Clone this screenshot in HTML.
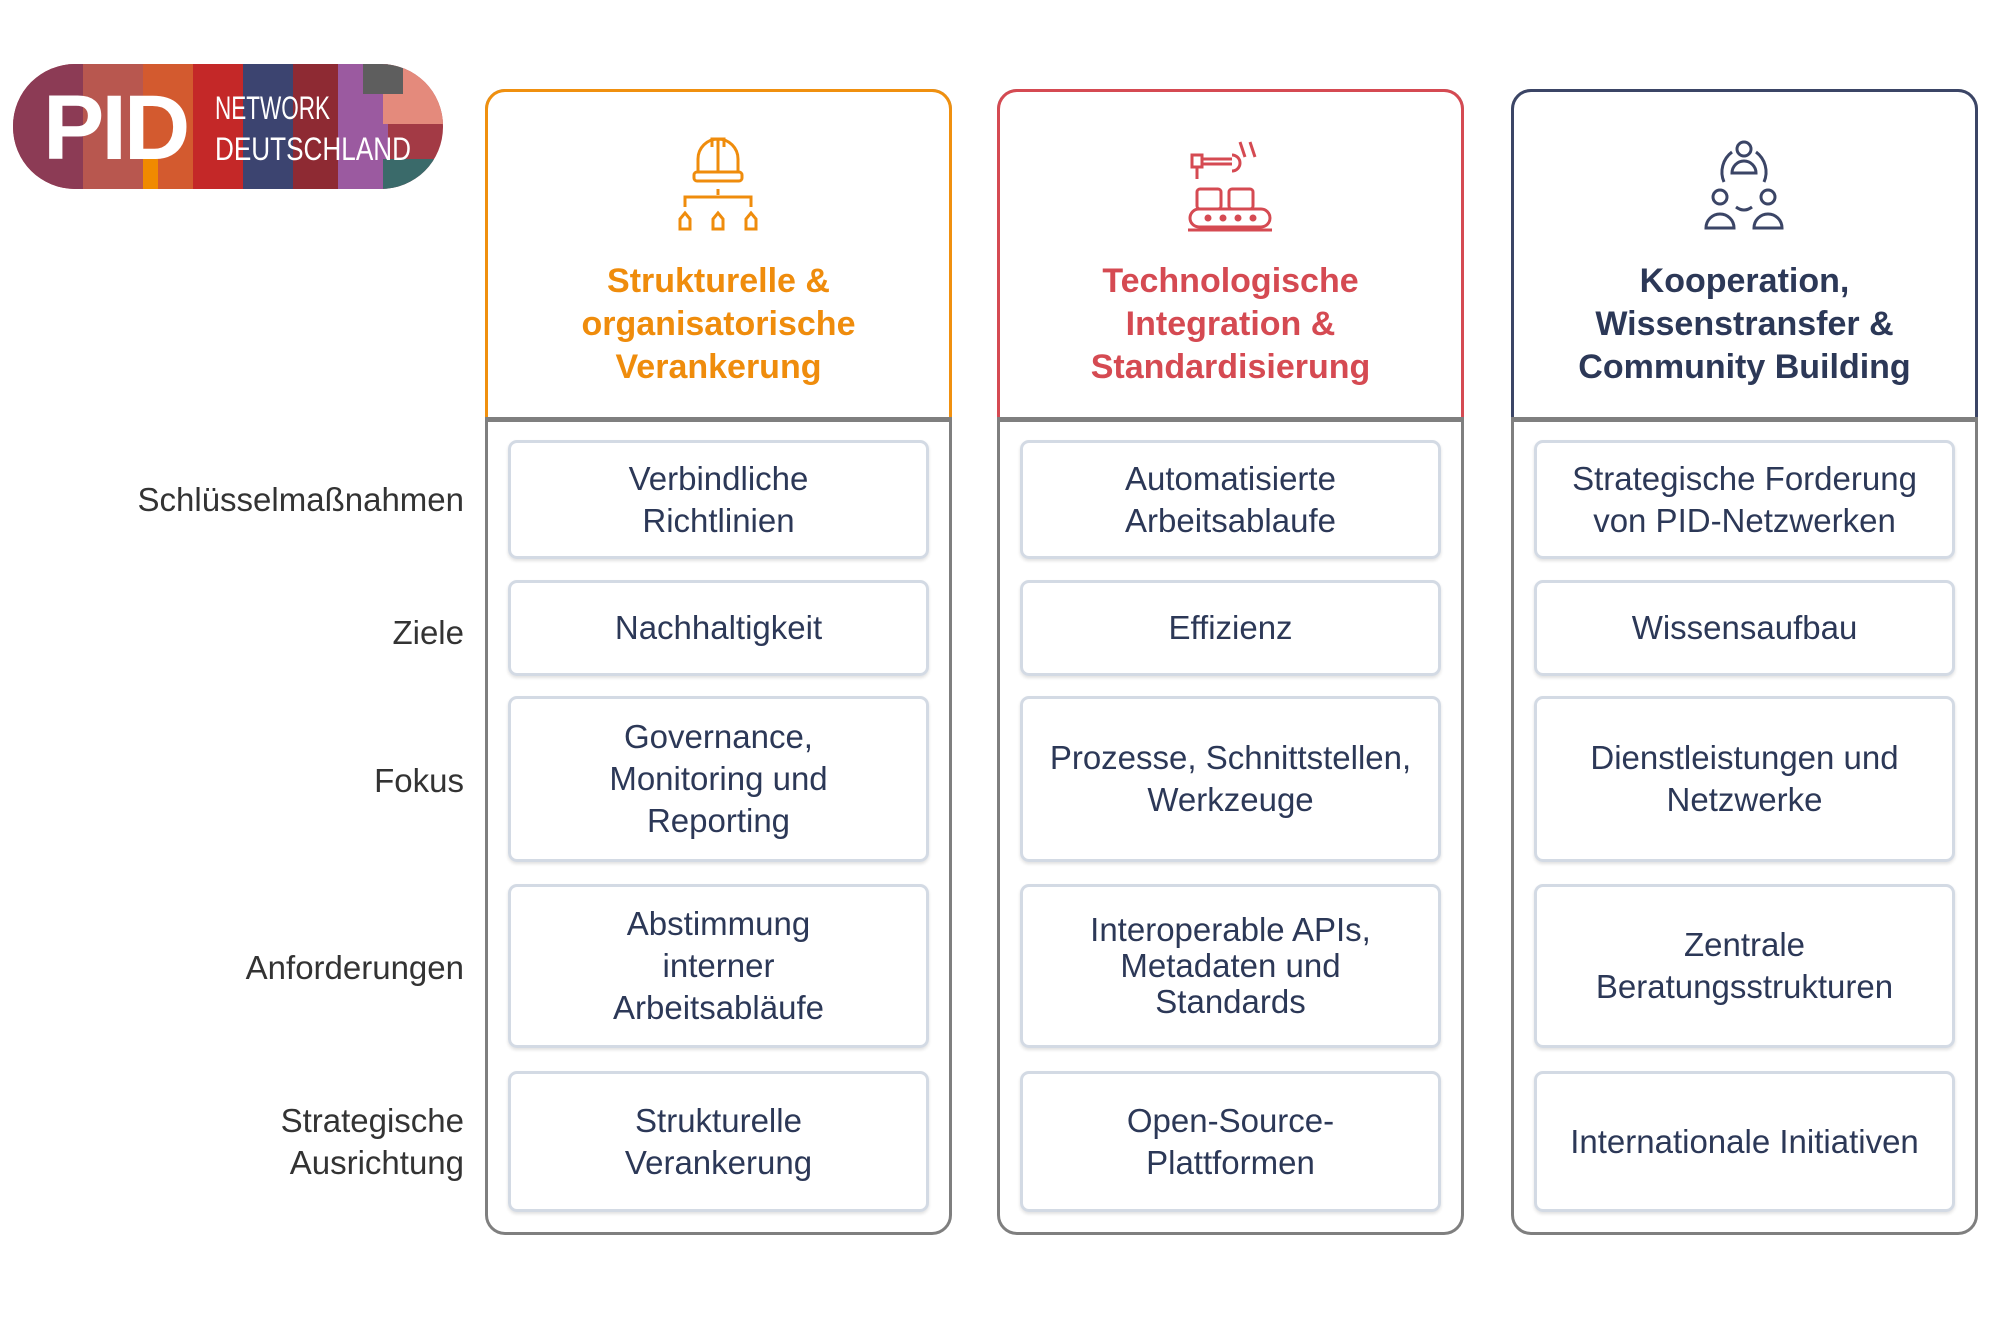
<!DOCTYPE html>
<html><head><meta charset="utf-8"><style>
*{margin:0;padding:0;box-sizing:border-box}
body{width:2000px;height:1329px;background:#fff;position:relative;overflow:hidden;font-family:"Liberation Sans","DejaVu Sans",sans-serif}
.col{position:absolute;top:89px;width:467px;height:1146px;border:3px solid #7f7f7f;border-radius:20px}
.head{position:absolute;left:-3px;top:-3px;width:467px;height:331px;border:3px solid;border-bottom:none;border-radius:20px 20px 0 0;background:#fff}
.div{position:absolute;left:-3px;top:325px;width:467px;height:5px;background:#7f7f7f}
.ht{position:absolute;left:0;width:461px;top:168px;text-align:center;font-weight:bold;font-size:34px;line-height:43px}
.icon{position:absolute;left:180px;top:45px}
.cell{position:absolute;width:421px;border:3px solid #d3dae4;border-radius:9px;display:flex;align-items:center;justify-content:center;text-align:center;font-size:33px;line-height:42px;color:#2c3857;box-shadow:0 2px 3px rgba(0,0,0,.12)}
.lab{position:absolute;right:1536px;text-align:right;font-size:33px;line-height:42px;color:#333;transform:translateY(-50%)}
</style></head><body>
<svg style="position:absolute;left:13px;top:64px" width="430" height="125" viewBox="0 0 430 125">
<defs><clipPath id="c"><rect x="0" y="0" width="430" height="125" rx="62"/></clipPath></defs>
<g clip-path="url(#c)">
<rect width="430" height="125" fill="#a33a45"/>
<rect x="0" width="70" height="125" fill="#8c3b55"/>
<rect x="70" width="60" height="125" fill="#b8574f"/>
<rect x="130" width="50" height="125" fill="#d35a2f"/>
<rect x="180" width="50" height="125" fill="#c42828"/>
<rect x="230" width="50" height="125" fill="#3c4470"/>
<rect x="280" width="45" height="125" fill="#8e2a33"/>
<rect x="325" width="50" height="125" fill="#9b5aa0"/>
<rect x="370" width="60" height="60" fill="#e48a7c"/>
<rect x="350" width="40" height="30" fill="#5e5e5e"/>
<rect x="370" y="95" width="60" height="30" fill="#3a6a6a"/>
<rect x="130" y="90" width="15" height="35" fill="#f08a00"/>
</g>
<text x="30" y="95" font-family="Liberation Sans" font-weight="bold" font-size="92" fill="#fff" letter-spacing="-3">PID</text>
<text x="202" y="55" font-family="Liberation Sans Narrow, Liberation Sans" font-size="32" fill="#fff" textLength="115" lengthAdjust="spacingAndGlyphs">NETWORK</text>
<text x="202" y="96" font-family="Liberation Sans Narrow, Liberation Sans" font-size="32" fill="#fff" textLength="196" lengthAdjust="spacingAndGlyphs">DEUTSCHLAND</text>
</svg>

<div class="col" style="left:485px">
<div class="head" style="border-color:#f0900f"></div><div class="div"></div>
<svg class="icon" width="100" height="95" viewBox="0 0 100 95" fill="none" stroke="#ef8c0c" stroke-width="3">
<path d="M30 35 V22 a20 20 0 0 1 40 0 V35 M44 10 V2 h12 v8 M50 2 V35"/><rect x="26" y="35" width="48" height="9" rx="3"/>
<path d="M50 52 V58 M17 70 V60 h66 v10"/>
<path d="M12 92 v-10 l5-6 5 6 v10z M45 92 v-10 l5-6 5 6 v10z M78 92 v-10 l5-6 5 6 v10z"/></svg>
<div class="ht" style="color:#ef8c0c">Strukturelle &amp;<br>organisatorische<br>Verankerung</div>
</div>
<div class="col" style="left:997px">
<div class="head" style="border-color:#d54a52"></div><div class="div"></div>
<svg class="icon" width="100" height="95" viewBox="0 0 100 95" fill="none" stroke="#d54a52" stroke-width="3">
<rect x="12" y="18" width="10" height="12"/><path d="M22 22 h30 M22 27 h30 M52 18 a8 8 0 0 1 0 16 M60 5 l5 15 M70 5 l5 15 M17 30 V42"/>
<rect x="17" y="52" width="24" height="20" rx="3"/><rect x="49" y="52" width="24" height="20" rx="3"/>
<rect x="10" y="72" width="80" height="18" rx="9"/><path d="M8 93 h84"/>
<circle cx="28" cy="81" r="2" fill="#d54a52"/><circle cx="43" cy="81" r="2" fill="#d54a52"/><circle cx="58" cy="81" r="2" fill="#d54a52"/><circle cx="73" cy="81" r="2" fill="#d54a52"/></svg>
<div class="ht" style="color:#d54a52">Technologische<br>Integration &amp;<br>Standardisierung</div>
</div>
<div class="col" style="left:1511px">
<div class="head" style="border-color:#3b4566"></div><div class="div"></div>
<svg class="icon" width="100" height="95" viewBox="0 0 100 95" fill="none" stroke="#3b4566" stroke-width="3">
<circle cx="50" cy="12" r="7"/><path d="M38 36 a12 12 0 0 1 24 0 z"/><path d="M30 45 a25 25 0 0 1 8-30 M70 45 a25 25 0 0 0-8-30"/>
<circle cx="26" cy="60" r="7"/><path d="M12 91 a14 14 0 0 1 28 0 z"/>
<circle cx="74" cy="60" r="7"/><path d="M60 91 a14 14 0 0 1 28 0 z"/><path d="M42 70 q8 6 16 0"/></svg>
<div class="ht" style="color:#2c3857">Kooperation,<br>Wissenstransfer &amp;<br>Community Building</div>
</div>

<div class="lab" style="top:500px">Schlüsselmaßnahmen</div>
<div class="lab" style="top:633px">Ziele</div>
<div class="lab" style="top:781px">Fokus</div>
<div class="lab" style="top:968px">Anforderungen</div>
<div class="lab" style="top:1142px">Strategische<br>Ausrichtung</div>

<div class="cell" style="left:508px;top:440px;height:119px">Verbindliche<br>Richtlinien</div>
<div class="cell" style="left:508px;top:580px;height:96px">Nachhaltigkeit</div>
<div class="cell" style="left:508px;top:696px;height:166px">Governance,<br>Monitoring und<br>Reporting</div>
<div class="cell" style="left:508px;top:884px;height:164px">Abstimmung<br>interner<br>Arbeitsabläufe</div>
<div class="cell" style="left:508px;top:1071px;height:141px">Strukturelle<br>Verankerung</div>

<div class="cell" style="left:1020px;top:440px;height:119px">Automatisierte<br>Arbeitsablaufe</div>
<div class="cell" style="left:1020px;top:580px;height:96px">Effizienz</div>
<div class="cell" style="left:1020px;top:696px;height:166px">Prozesse, Schnittstellen,<br>Werkzeuge</div>
<div class="cell" style="left:1020px;top:884px;height:164px;line-height:36px">Interoperable APIs,<br>Metadaten und<br>Standards</div>
<div class="cell" style="left:1020px;top:1071px;height:141px">Open-Source-<br>Plattformen</div>

<div class="cell" style="left:1534px;top:440px;height:119px">Strategische Forderung<br>von PID-Netzwerken</div>
<div class="cell" style="left:1534px;top:580px;height:96px">Wissensaufbau</div>
<div class="cell" style="left:1534px;top:696px;height:166px">Dienstleistungen und<br>Netzwerke</div>
<div class="cell" style="left:1534px;top:884px;height:164px">Zentrale<br>Beratungsstrukturen</div>
<div class="cell" style="left:1534px;top:1071px;height:141px">Internationale Initiativen</div>
</body></html>
